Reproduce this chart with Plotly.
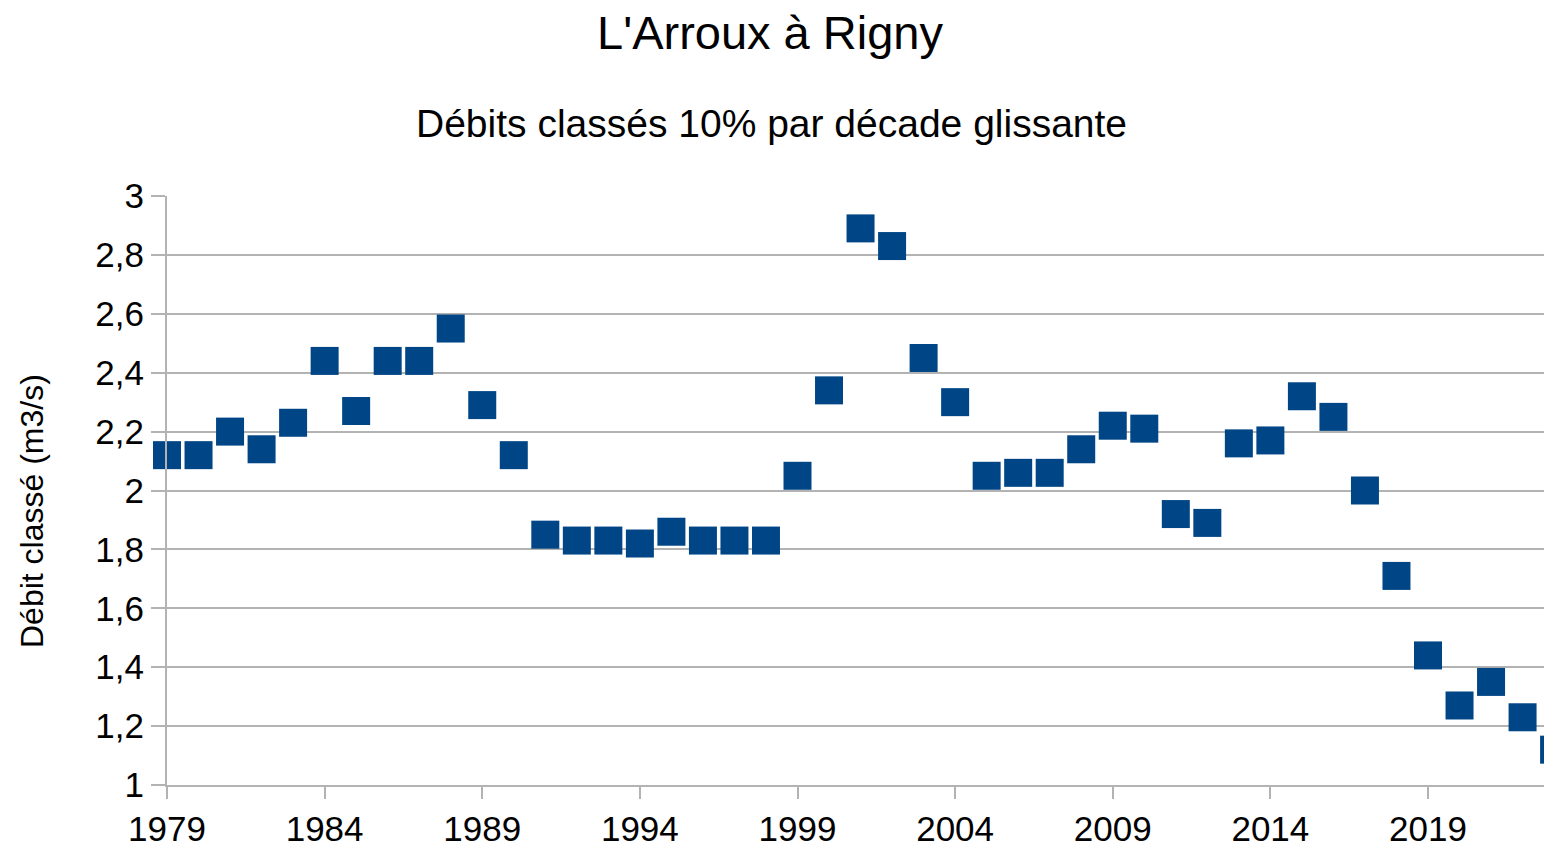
import plotly.graph_objects as go

years = list(range(1979, 2024))
debits = [2.12, 2.12, 2.20, 2.14, 2.23, 2.44, 2.27, 2.44, 2.44, 2.55,
          2.29, 2.12, 1.85, 1.83, 1.83, 1.82, 1.86, 1.83, 1.83, 1.83,
          2.05, 2.34, 2.89, 2.83, 2.45, 2.30, 2.05, 2.06, 2.06, 2.14,
          2.22, 2.21, 1.92, 1.89, 2.16, 2.17, 2.32, 2.25, 2.00, 1.71,
          1.44, 1.27, 1.35, 1.23, 1.12]
x_ticks = [1979, 1984, 1989, 1994, 1999, 2004, 2009, 2014, 2019]
y_ticks = [1, 1.2, 1.4, 1.6, 1.8, 2, 2.2, 2.4, 2.6, 2.8, 3]

FONT = "Liberation Sans, Arial, sans-serif"
GRID = "#b3b3b3"
OFF = 8                      # default body margin of the page
W, H = 1552, 843
PL, PT, PB = 167, 196, 785   # plot area edges in page pixels
PR = OFF + W
PW, PH = PR - PL, PB - PT
YEAR_PX = (1428 - 167) / 40  # pixels per year in the reference

fig = go.Figure(go.Scatter(
    x=years, y=debits, mode="markers",
    marker=dict(symbol="square", size=28, color="#004586",
                line=dict(width=0)),
    cliponaxis=False, showlegend=False,
))

fig.update_layout(
    width=W, height=H,
    paper_bgcolor="white", plot_bgcolor="white",
    margin=dict(l=PL - OFF, r=0, t=PT - OFF, b=OFF + H - PB, autoexpand=False),
    separators=", ",
    font=dict(family=FONT, color="black"),
    title=dict(text="L'Arroux à Rigny", x=(770 - OFF) / W, xref="container", xanchor="center",
               y=1 - (33 - OFF) / H, yref="container", yanchor="middle",
               font=dict(size=47, family=FONT)),
    annotations=[
        dict(text="Débits classés 10% par décade glissante",
             xref="paper", yref="paper", x=(771 - PL) / PW, y=1 + (PT - 123) / PH,
             xanchor="center", yanchor="middle", showarrow=False,
             font=dict(size=39, family=FONT)),
        dict(text="Débit classé (m3/s)", textangle=-90,
             xref="paper", yref="paper", x=(32 - PL) / PW, y=(PB - 511) / PH,
             xanchor="center", yanchor="middle", showarrow=False,
             font=dict(size=32, family=FONT)),
    ],
)

fig.update_xaxes(
    range=[1979, 1979 + PW / YEAR_PX], tickvals=x_ticks, showgrid=False, zeroline=False,
    showline=True, linecolor=GRID, linewidth=2, automargin=False,
    ticks="outside", ticklen=12, tickwidth=2, tickcolor=GRID,
    tickfont=dict(size=35, family=FONT, color="black"),
)
fig.update_yaxes(
    range=[1, 3], tickvals=y_ticks, showgrid=True, gridcolor=GRID, gridwidth=2,
    zeroline=False, showline=True, linecolor=GRID, linewidth=2, automargin=False,
    ticks="outside", ticklen=14, tickwidth=2, tickcolor=GRID,
    tickfont=dict(size=35, family=FONT, color="black"),
)

fig.write_html("out.html")
